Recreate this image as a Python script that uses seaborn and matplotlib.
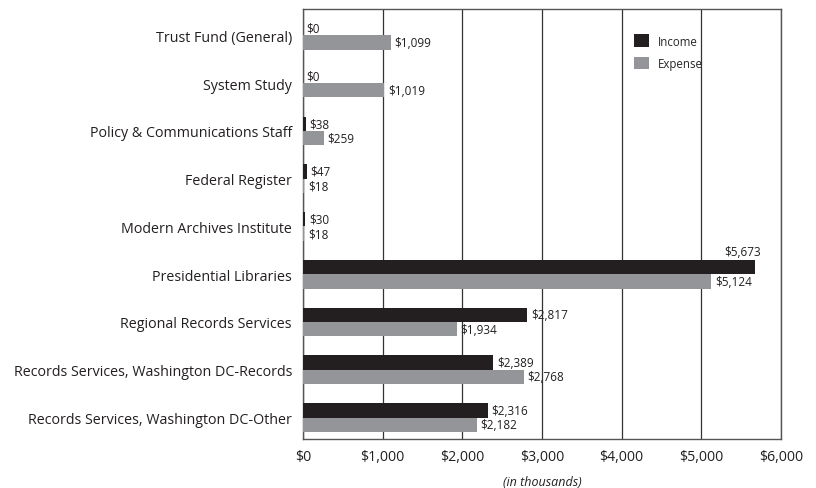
import matplotlib
matplotlib.use("Agg")
import matplotlib.pyplot as plt
import seaborn as sns
import pandas as pd
from matplotlib.ticker import FuncFormatter

categories = [
    "Trust Fund (General)",
    "System Study",
    "Policy & Communications Staff",
    "Federal Register",
    "Modern Archives Institute",
    "Presidential Libraries",
    "Regional Records Services",
    "Records Services, Washington DC-Records",
    "Records Services, Washington DC-Other",
]
income = [0, 0, 38, 47, 30, 5673, 2817, 2389, 2316]
expense = [1099, 1019, 259, 18, 18, 5124, 1934, 2768, 2182]
series = ["Income", "Expense"]
colors = {"Income": "#231f20", "Expense": "#939598"}

df = pd.DataFrame({
    "category": categories * 2,
    "value": income + expense,
    "series": ["Income"] * len(categories) + ["Expense"] * len(categories),
})

sns.set_theme(style="white")
plt.rcParams["font.family"] = ["Open Sans", "DejaVu Sans"]

fig = plt.figure(figsize=(8.16, 4.89), dpi=100)
ax = fig.add_axes([303 / 816, 1 - 440 / 489, (781 - 303) / 816, (440 - 10) / 489])

sns.barplot(data=df, y="category", x="value", hue="series", order=categories,
            hue_order=series, palette=colors, orient="h", width=0.6,
            saturation=1, ax=ax, linewidth=0, zorder=3)

ax.set_xlim(0, 6000)
ax.set_ylim(len(categories) - 0.55, -0.55)
ax.set_xticks(range(0, 6001, 1000))
ax.xaxis.set_major_formatter(FuncFormatter(lambda v, p: f"${v:,.0f}"))
ax.grid(axis="x", color="#333333", linewidth=0.9, zorder=0)
ax.grid(axis="y", visible=False)
for s in ax.spines.values():
    s.set_color("#555555")
    s.set_linewidth(1.0)
ax.tick_params(axis="y", labelsize=10.3, colors="#231f20", length=0, pad=8)
ax.tick_params(axis="x", labelsize=10.2, colors="#231f20", length=0, pad=7)
ax.set_ylabel("")
ax.set_xlabel("(in thousands)", fontsize=9, style="italic", labelpad=8, color="#231f20")

# value labels
for cont, vals in zip(ax.containers, [income, expense]):
    for bar, v in zip(cont, vals):
        y = bar.get_y() + bar.get_height() / 2
        x = bar.get_width()
        txt = f"${v:,.0f}"
        if v > 5500:
            ax.text(x + 80, bar.get_y() - 0.04, txt, ha="right", va="bottom", fontsize=8.5,
                    color="#231f20")
        else:
            ax.text(x + 45, y, txt, ha="left", va="center", fontsize=8.5, color="#231f20")

leg = ax.legend(loc="upper left", bbox_to_anchor=(0.67, 0.965), frameon=False,
                fontsize=8.3, handlelength=1.3, handleheight=1.3, handletextpad=0.8,
                labelspacing=0.8)
leg.set_zorder(5)

fig.savefig("out.png", dpi=100)
